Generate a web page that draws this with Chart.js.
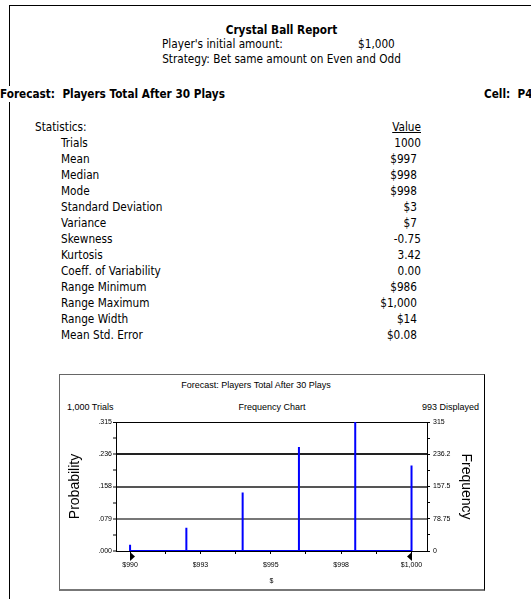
<!DOCTYPE html>
<html>
<head>
<meta charset="utf-8">
<title>Crystal Ball Report</title>
<script src="https://cdn.jsdelivr.net/npm/chart.js@4.4.1/dist/chart.umd.min.js"></script>
<style>
  html, body { margin: 0; padding: 0; background: #fff; }
  body {
    width: 531px; height: 599px; position: relative; overflow: hidden;
    font-family: "DejaVu Sans Condensed", "DejaVu Sans", sans-serif;
    font-size: 11.7px; color: #000;
  }
  .t { position: absolute; white-space: nowrap; line-height: 16px; }
  .b { font-weight: bold; }
  .frame {
    position: absolute; left: 9px; top: 5px; width: 700px; height: 700px;
    border-top: 1px solid #000; border-left: 1px solid #000;
  }
  .box {
    position: absolute; left: 59px; top: 374px; width: 426px; height: 217px;
    box-sizing: border-box; border: 1px solid #666;
    border-right-color: #000; border-bottom: 2px solid #777;
  }
  .ct {
    position: absolute; white-space: nowrap; line-height: 11px;
    font-family: "Liberation Sans", Arial, sans-serif; font-size: 9px;
  }
  #chart { position: absolute; left: 59px; top: 374px; }
</style>
</head>
<body>
<div class="frame"></div>

<div class="t b" style="left:0;width:563px;text-align:center;top:22px">Crystal Ball Report</div>
<div class="t" style="left:162px;top:36px">Player's initial amount:</div>
<div class="t" style="left:358px;top:36px">$1,000</div>
<div class="t" style="left:0;width:563px;text-align:center;top:51px">Strategy: Bet same amount on Even and Odd</div>
<div class="t b" style="left:0;top:86px;background:#fff">Forecast:&nbsp; Players Total After 30 Plays</div>
<div class="t b" style="left:484px;top:86px">Cell:&nbsp; P43</div>

<div class="t" style="left:35px;top:119px">Statistics:</div>
<div class="t" style="right:110px;top:119px;text-decoration:underline">Value</div>
<div id="stats"></div>

<div class="box"></div>
<div class="ct" style="left:0;width:512px;text-align:center;top:380px">Forecast: Players Total After 30 Plays</div>
<div class="ct" style="left:67px;top:402px">1,000 Trials</div>
<div class="ct" style="left:0;width:544px;text-align:center;top:402px">Frequency Chart</div>
<div class="ct" style="right:52px;top:402px">993 Displayed</div>

<canvas id="chart" width="426" height="217"></canvas>

<script>
// ---- report statistics ----
const statLabels = ['Trials', 'Mean', 'Median', 'Mode', 'Standard Deviation', 'Variance',
  'Skewness', 'Kurtosis', 'Coeff. of Variability', 'Range Minimum', 'Range Maximum',
  'Range Width', 'Mean Std. Error'];
const statValues = ['1000', '$997', '$998', '$998', '$3', '$7', '-0.75', '3.42', '0.00',
  '$986', '$1,000', '$14', '$0.08'];

// ---- frequency chart ----
const trials    = 1000;
const amounts   = [990, 992, 994, 996, 998, 1000];
const frequency = [15, 57, 143, 254, 315, 209];
const freqMax   = 315;
const xTickValues    = [990, 992.5, 995, 997.5, 1000];
const xTickLabels    = ['$990', '$993', '$995', '$998', '$1,000'];
const probTickLabels = ['.000', '.079', '.158', '.236', '.315'];
const freqTickLabels = ['0', '78.75', '157.5', '236.2', '315'];
const grabbers  = [990, 1000];

const statsEl = document.getElementById('stats');
statLabels.forEach((lab, i) => {
  const top = 135 + i * 16;
  const v = statValues[i];
  const right = v.startsWith('$') ? 114 : 110;
  statsEl.insertAdjacentHTML('beforeend',
    `<div class="t" style="left:61px;top:${top}px">${lab}</div>` +
    `<div class="t" style="right:${right}px;top:${top}px">${v}</div>`);
});

// spikes drawn as one line that drops back to zero between amounts
const spikePoints = [];
amounts.forEach((a, i) => {
  spikePoints.push({ x: a, y: 0 }, { x: a, y: frequency[i] }, { x: a, y: 0 });
});

// 4 major steps, each split in half by a minor tick
function halfTicks(max) {
  const t = [];
  for (let i = 0; i <= 8; i++) t.push({ value: max * i / 8 });
  return t;
}

const gridColors = { 2: '#777', 4: '#555', 6: '#222', 8: '#000' };

const grabberPlugin = {
  id: 'grabbers',
  afterDraw(chart) {
    const { ctx, chartArea } = chart;
    const x = chart.scales.x;
    const y0 = chartArea.bottom + 1;
    ctx.save();
    ctx.fillStyle = '#000';
    grabbers.forEach((g, i) => {
      const px = Math.round(x.getPixelForValue(g));
      const dir = i === 0 ? 1 : -1;
      ctx.beginPath();
      ctx.moveTo(px, y0);
      ctx.lineTo(px, y0 + 9);
      ctx.lineTo(px + 5 * dir, y0 + 4.5);
      ctx.closePath();
      ctx.fill();
    });
    ctx.restore();
  }
};

Chart.defaults.font.family = '"Liberation Sans", Arial, sans-serif';
Chart.defaults.color = '#000';

new Chart(document.getElementById('chart'), {
  type: 'line',
  data: {
    datasets: [{
      data: spikePoints,
      yAxisID: 'yFreq',
      borderColor: '#0000ff',
      borderWidth: 2,
      pointRadius: 0,
      tension: 0,
      fill: false
    }]
  },
  options: {
    responsive: false,
    animation: false,
    devicePixelRatio: 1,
    layout: { padding: { top: 48, left: 0, right: 0, bottom: 0 } },
    plugins: { legend: { display: false }, tooltip: { enabled: false } },
    scales: {
      x: {
        type: 'linear',
        min: 989.5,
        max: 1000.55,
        afterBuildTicks: s => {
          const t = [];
          xTickValues.forEach((v, i) => {
            t.push({ value: v });
            if (i < xTickValues.length - 1) t.push({ value: (v + xTickValues[i + 1]) / 2 });
          });
          s.ticks = t;
        },
        ticks: {
          callback: v => {
            const i = xTickValues.indexOf(v);
            return i >= 0 ? xTickLabels[i] : '';
          },
          font: { size: 7 }, maxRotation: 0, autoSkip: false, padding: 7
        },
        grid: { drawOnChartArea: false, tickLength: 3, color: '#000', tickColor: '#000' },
        border: { color: '#000', width: 1 },
        title: { display: true, text: '$', font: { size: 7 }, padding: { top: 0, bottom: 6 } },
        afterFit: s => { s.height = 40; }
      },
      yProb: {
        position: 'left',
        min: 0,
        max: freqMax / trials,
        afterBuildTicks: s => { s.ticks = halfTicks(freqMax / trials); },
        ticks: {
          callback: (v, i) => (i % 2 === 0 ? probTickLabels[i / 2] : ''),
          font: { size: 7 }, padding: 1, autoSkip: false
        },
        grid: {
          color: c => gridColors[c.index] || 'rgba(0,0,0,0)',
          lineWidth: c => (c.index === 8 ? 1 : 2),
          tickColor: '#000', tickWidth: 1, tickLength: 3
        },
        border: { color: '#000', width: 1 },
        title: { display: true, text: 'Probability', font: { size: 14 }, padding: { top: 8 } },
        afterFit: s => { s.width = 57; }
      },
      yFreq: {
        position: 'right',
        min: 0,
        max: freqMax,
        afterBuildTicks: s => { s.ticks = halfTicks(freqMax); },
        ticks: {
          callback: (v, i) => (i % 2 === 0 ? freqTickLabels[i / 2] : ''),
          font: { size: 7 }, padding: 3, autoSkip: false
        },
        grid: { drawOnChartArea: false, color: '#000', tickLength: 3 },
        border: { color: '#000', width: 1 },
        title: { display: true, text: 'Frequency', font: { size: 14 }, padding: { top: 11 } },
        afterFit: s => { s.width = 58; }
      }
    }
  },
  plugins: [grabberPlugin]
});
</script>
</body>
</html>
